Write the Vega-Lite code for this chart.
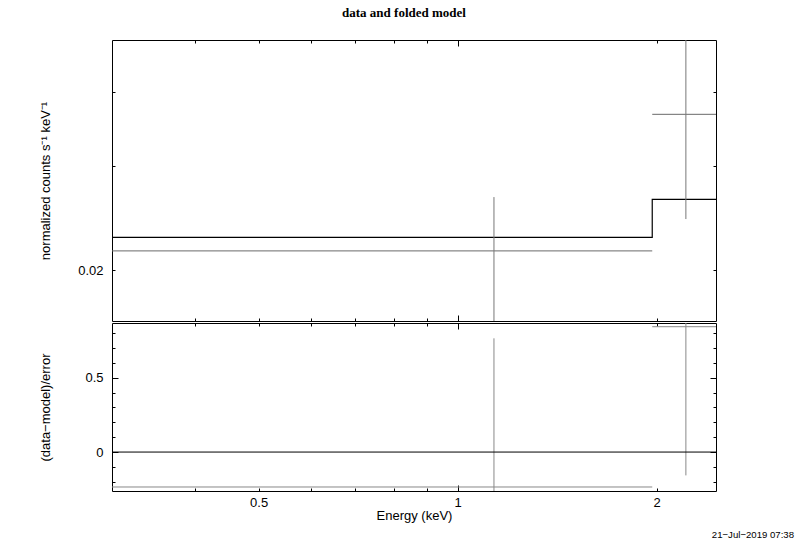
{
  "$schema": "https://vega.github.io/schema/vega-lite/v6.json",
  "padding": {"left": 38, "top": 6, "right": 5, "bottom": 0},
  "background": "white",
  "datasets": {
    "obs": [
      {"e": 1.135, "elo": 0.3, "ehi": 1.97, "rate": 0.02157, "rlo": 0.0163, "rhi": 0.0266, "resid": -0.235, "reslo": -1.235, "reshi": 0.765},
      {"e": 2.215, "elo": 1.97, "ehi": 2.46, "rate": 0.03672, "rlo": 0.02442, "rhi": 0.0495, "resid": 0.843, "reslo": -0.157, "reshi": 1.843}
    ],
    "model": [
      {"e": 0.3, "m": 0.02274},
      {"e": 1.97, "m": 0.02637},
      {"e": 2.46, "m": 0.02637}
    ],
    "zero": [{"r": 0}]
  },
  "config": {
    "view": {"stroke": "#000", "strokeWidth": 1},
    "axis": {"domain": false, "grid": false, "tickColor": "#000", "tickWidth": 1, "labelFont": "Liberation Sans", "labelFontSize": 13, "labelColor": "#000", "titleFont": "Liberation Sans", "titleFontSize": 13, "titleFontWeight": "normal", "titleColor": "#000", "labelFlush": false, "labelOverlap": false}
  },
  "title": {"text": "21−Jul−2019 07:38", "orient": "bottom", "anchor": "end", "font": "Liberation Sans", "fontSize": 9.6, "fontWeight": "normal", "color": "#000", "baseline": "alphabetic", "offset": 15, "dx": 77},
  "spacing": 0,
  "vconcat": [
    {
      "width": 604, "height": 281,
      "title": {"text": "data and folded model", "font": "Liberation Serif", "fontSize": 13, "fontWeight": "bold", "color": "#000", "anchor": "middle", "baseline": "alphabetic", "offset": 9.5, "dx": -10},
      "resolve": {"axis": {"x": "independent", "y": "independent"}},
      "layer": [
        {
          "data": {"name": "model"},
          "mark": {"type": "line", "interpolate": "step-after", "color": "#000", "strokeWidth": 1.2, "clip": true},
          "encoding": {
            "x": {"field": "e", "type": "quantitative", "scale": {"type": "log", "domain": [0.3, 2.46], "nice": false}, "axis": {"orient": "bottom", "values": [0.4, 0.5, 0.6, 0.7, 0.8, 0.9, 2], "tickSize": -3, "labels": false, "title": null}},
            "y": {"field": "m", "type": "quantitative", "scale": {"type": "log", "domain": [0.016415, 0.04905], "nice": false}, "axis": {"orient": "left", "values": [0.02, 0.03, 0.04], "tickSize": -3, "labelPadding": 12, "labelExpr": "datum.value == 0.02 ? '0.02' : ''", "title": "normalized counts s⁻¹ keV⁻¹", "titleAngle": -90, "titleAlign": "center", "titleBaseline": "alphabetic", "titleX": -63, "titleY": 140.5}}
          }
        },
        {
          "data": {"name": "obs"},
          "mark": {"type": "rule", "color": "#6a6a6a", "strokeWidth": 1, "clip": true},
          "encoding": {
            "x": {"field": "elo", "type": "quantitative", "scale": {"type": "log", "domain": [0.3, 2.46], "nice": false}, "axis": {"orient": "bottom", "values": [1], "tickSize": -6, "labels": false, "title": null}},
            "x2": {"field": "ehi"},
            "y": {"field": "rate", "type": "quantitative", "scale": {"type": "log", "domain": [0.016415, 0.04905], "nice": false}, "axis": {"orient": "right", "values": [0.02, 0.03, 0.04], "tickSize": -3, "labels": false, "title": null}}
          }
        },
        {
          "data": {"name": "obs"},
          "mark": {"type": "rule", "color": "#777", "strokeWidth": 1, "clip": true},
          "encoding": {
            "x": {"field": "e", "type": "quantitative", "scale": {"type": "log", "domain": [0.3, 2.46], "nice": false}, "axis": {"orient": "top", "values": [0.4, 0.5, 0.6, 0.7, 0.8, 0.9, 2], "tickSize": -3, "labels": false, "title": null}},
            "y": {"field": "rlo", "type": "quantitative", "scale": {"type": "log", "domain": [0.016415, 0.04905], "nice": false}, "axis": null},
            "y2": {"field": "rhi"}
          }
        },
        {
          "data": {"name": "obs"},
          "mark": {"type": "rule", "opacity": 0},
          "encoding": {
            "x": {"field": "e", "type": "quantitative", "scale": {"type": "log", "domain": [0.3, 2.46], "nice": false}, "axis": {"orient": "top", "values": [1], "tickSize": -6, "labels": false, "title": null}},
            "y": {"field": "rate", "type": "quantitative", "scale": {"type": "log", "domain": [0.016415, 0.04905], "nice": false}, "axis": null}
          }
        }
      ]
    },
    {
      "width": 604, "height": 168,
      "resolve": {"axis": {"x": "independent", "y": "independent"}},
      "layer": [
        {
          "data": {"name": "obs"},
          "mark": {"type": "rule", "color": "#888", "strokeWidth": 1, "clip": true},
          "encoding": {
            "x": {"field": "elo", "type": "quantitative", "scale": {"type": "log", "domain": [0.3, 2.46], "nice": false}, "axis": {"orient": "bottom", "values": [0.4, 0.5, 0.6, 0.7, 0.8, 0.9, 2], "tickSize": -3, "labelPadding": 8, "labelExpr": "datum.value == 0.5 ? '0.5' : datum.value == 2 ? '2' : ''", "title": "Energy (keV)", "titleX": 302, "titleY": 28, "titleBaseline": "alphabetic", "titleAlign": "center", "titleAngle": 0}},
            "x2": {"field": "ehi"},
            "y": {"field": "resid", "type": "quantitative", "scale": {"domain": [-0.262, 0.868], "nice": false, "zero": false}, "axis": {"orient": "left", "values": [-0.2, -0.1, 0.1, 0.2, 0.3, 0.4, 0.6, 0.7, 0.8], "tickSize": -3, "labels": false, "title": "(data−model)/error", "titleAngle": -90, "titleAlign": "center", "titleBaseline": "alphabetic", "titleX": -63, "titleY": 84}}
          }
        },
        {
          "data": {"name": "obs"},
          "mark": {"type": "rule", "color": "#888", "strokeWidth": 1, "clip": true},
          "encoding": {
            "x": {"field": "e", "type": "quantitative", "scale": {"type": "log", "domain": [0.3, 2.46], "nice": false}, "axis": {"orient": "bottom", "values": [1], "tickSize": -6, "labelPadding": 11, "labelExpr": "'1'", "title": null}},
            "y": {"field": "reslo", "type": "quantitative", "scale": {"domain": [-0.262, 0.868], "nice": false, "zero": false}, "axis": {"orient": "left", "values": [0, 0.5], "tickSize": -6, "labelPadding": 15, "labelExpr": "datum.value == 0 ? '0' : '0.5'", "title": null}},
            "y2": {"field": "reshi"}
          }
        },
        {
          "data": {"name": "zero"},
          "mark": {"type": "rule", "color": "#000", "strokeWidth": 1},
          "encoding": {
            "x": {"datum": 0.3, "type": "quantitative", "scale": {"type": "log", "domain": [0.3, 2.46], "nice": false}, "axis": {"orient": "top", "values": [0.4, 0.5, 0.6, 0.7, 0.8, 0.9, 2], "tickSize": -3, "labels": false, "title": null}},
            "x2": {"datum": 2.46},
            "y": {"field": "r", "type": "quantitative", "scale": {"domain": [-0.262, 0.868], "nice": false, "zero": false}, "axis": {"orient": "right", "values": [-0.2, -0.1, 0.1, 0.2, 0.3, 0.4, 0.6, 0.7, 0.8], "tickSize": -3, "labels": false, "title": null}}
          }
        },
        {
          "data": {"name": "obs"},
          "mark": {"type": "rule", "opacity": 0},
          "encoding": {
            "x": {"field": "e", "type": "quantitative", "scale": {"type": "log", "domain": [0.3, 2.46], "nice": false}, "axis": {"orient": "top", "values": [1], "tickSize": -6, "labels": false, "title": null}},
            "y": {"field": "resid", "type": "quantitative", "scale": {"domain": [-0.262, 0.868], "nice": false, "zero": false}, "axis": {"orient": "right", "values": [0, 0.5], "tickSize": -6, "labels": false, "title": null}}
          }
        }
      ]
    }
  ]
}
